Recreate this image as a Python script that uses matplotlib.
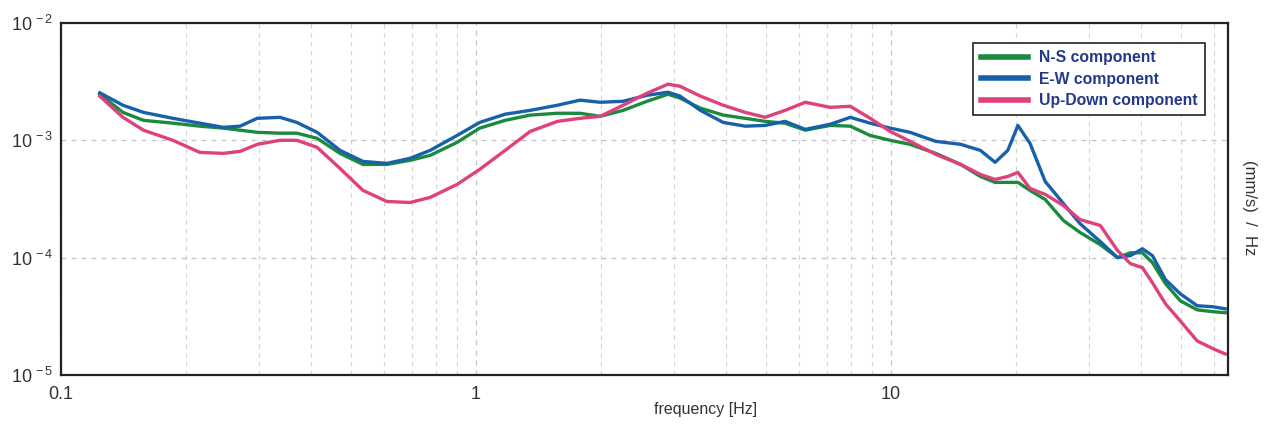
import matplotlib
matplotlib.use("Agg")
import matplotlib.pyplot as plt
from matplotlib.ticker import LogLocator, FixedLocator, FixedFormatter, NullFormatter

# ---- data ----
freq_hz = [0.124, 0.141, 0.158, 0.186, 0.216, 0.246, 0.270, 0.297, 0.337, 0.370,
           0.414, 0.470, 0.534, 0.610, 0.693, 0.775, 0.900, 1.02, 1.175, 1.35,
           1.57, 1.78, 1.99, 2.26, 2.58, 2.90, 3.10, 3.47, 3.94, 4.45,
           4.97, 5.55, 6.21, 7.13, 7.97, 8.90, 9.95, 11.1, 12.8, 14.7,
           16.4, 17.8, 19.1, 20.2, 21.6, 23.5, 26.0, 28.5, 31.9, 35.1,
           37.7, 40.3, 42.6, 45.8, 49.7, 54.6, 59.7, 63.8]

ns_component = [2.47e-3, 1.73e-3, 1.48e-3, 1.40e-3, 1.32e-3, 1.27e-3, 1.22e-3, 1.17e-3, 1.15e-3, 1.15e-3,
                1.04e-3, 7.74e-4, 6.23e-4, 6.23e-4, 6.75e-4, 7.44e-4, 9.61e-4, 1.27e-3, 1.48e-3, 1.64e-3,
                1.70e-3, 1.70e-3, 1.60e-3, 1.80e-3, 2.15e-3, 2.47e-3, 2.29e-3, 1.88e-3, 1.64e-3, 1.54e-3,
                1.45e-3, 1.40e-3, 1.22e-3, 1.34e-3, 1.32e-3, 1.10e-3, 1.00e-3, 9.24e-4, 7.74e-4, 6.23e-4,
                4.92e-4, 4.38e-4, 4.38e-4, 4.38e-4, 3.74e-4, 3.13e-4, 2.07e-4, 1.64e-4, 1.29e-4, 1.00e-4,
                1.10e-4, 1.10e-4, 9.06e-5, 6.00e-5, 4.29e-5, 3.59e-5, 3.46e-5, 3.39e-5]

ew_component = [2.54e-3, 1.99e-3, 1.73e-3, 1.54e-3, 1.40e-3, 1.29e-3, 1.32e-3, 1.54e-3, 1.57e-3, 1.42e-3,
                1.17e-3, 8.21e-4, 6.61e-4, 6.36e-4, 7.02e-4, 8.21e-4, 1.10e-3, 1.42e-3, 1.67e-3, 1.80e-3,
                1.99e-3, 2.20e-3, 2.11e-3, 2.15e-3, 2.42e-3, 2.57e-3, 2.38e-3, 1.80e-3, 1.42e-3, 1.32e-3,
                1.34e-3, 1.45e-3, 1.24e-3, 1.37e-3, 1.57e-3, 1.40e-3, 1.27e-3, 1.17e-3, 9.80e-4, 9.24e-4,
                8.21e-4, 6.49e-4, 8.21e-4, 1.34e-3, 9.43e-4, 4.46e-4, 2.89e-4, 1.95e-4, 1.37e-4, 1.00e-4,
                1.04e-4, 1.19e-4, 1.04e-4, 6.49e-5, 4.92e-5, 3.89e-5, 3.81e-5, 3.66e-5]

ud_component = [2.38e-3, 1.57e-3, 1.22e-3, 1.00e-3, 7.89e-4, 7.74e-4, 8.05e-4, 9.24e-4, 1.00e-3, 1.00e-3,
                8.71e-4, 5.76e-4, 3.74e-4, 3.01e-4, 2.95e-4, 3.26e-4, 4.21e-4, 5.65e-4, 8.21e-4, 1.19e-3,
                1.45e-3, 1.54e-3, 1.60e-3, 1.99e-3, 2.52e-3, 3.01e-3, 2.89e-3, 2.38e-3, 1.99e-3, 1.73e-3,
                1.57e-3, 1.80e-3, 2.11e-3, 1.91e-3, 1.95e-3, 1.54e-3, 1.19e-3, 9.80e-4, 7.59e-4, 6.23e-4,
                5.12e-4, 4.64e-4, 4.92e-4, 5.33e-4, 3.89e-4, 3.46e-4, 2.78e-4, 2.11e-4, 1.88e-4, 1.15e-4,
                8.89e-5, 8.21e-5, 6.11e-5, 4.04e-5, 2.89e-5, 1.95e-5, 1.67e-5, 1.51e-5]

series_labels = ["N-S component", "E-W component", "Up-Down component"]
x_tick_values = [0.1, 1, 10]
x_tick_labels = ["0.1", "1", "10"]
y_tick_values = [1e-5, 1e-4, 1e-3, 1e-2]
y_tick_labels = [r"$10^{\,-5}$", r"$10^{\,-4}$", r"$10^{\,-3}$", r"$10^{\,-2}$"]

# ---- figure ----
plt.rcParams['font.family'] = ['Liberation Sans', 'DejaVu Sans']
plt.rcParams['mathtext.fontset'] = 'custom'
plt.rcParams['mathtext.rm'] = 'Liberation Sans'
plt.rcParams['mathtext.it'] = 'Liberation Sans'

fig = plt.figure(figsize=(12.71, 4.29), dpi=100)
ax = fig.add_axes([0.048, 0.126, 0.9182, 0.8204])

colors = ["#1b8a3e", "#1761aa", "#e0407c"]
for vals, lab, c in zip([ns_component, ew_component, ud_component], series_labels, colors):
    ax.plot(freq_hz, vals, color=c, lw=2.4, label=lab, solid_joinstyle='round')

ax.set_xscale('log')
ax.set_yscale('log')
ax.set_xlim(0.1, 64.8)
ax.set_ylim(1e-5, 1e-2)

ax.xaxis.set_major_locator(FixedLocator(x_tick_values))
ax.xaxis.set_major_formatter(FixedFormatter(x_tick_labels))
ax.xaxis.set_minor_locator(LogLocator(base=10, subs=range(2, 10)))
ax.xaxis.set_minor_formatter(NullFormatter())
ax.yaxis.set_major_locator(FixedLocator(y_tick_values))
ax.yaxis.set_major_formatter(FixedFormatter(y_tick_labels))
ax.yaxis.set_minor_locator(FixedLocator([]))

ax.tick_params(axis='both', which='both', length=0, labelsize=13, labelcolor='#333333')
ax.tick_params(axis='x', pad=8)
ax.tick_params(axis='y', pad=6)

ax.grid(True, which='major', axis='both', color='#c4c4c4', ls=(0, (4, 4)), lw=0.9)
ax.grid(True, which='minor', axis='x', color='#d2d2d2', ls=(0, (4, 4)), lw=0.8)
ax.set_axisbelow(True)

for s in ax.spines.values():
    s.set_color('#222222')
    s.set_linewidth(1.6)

fig.text(0.555, 0.045, "frequency [Hz]", fontsize=11.5, color='#333333',
         ha='center', va='center')
fig.text(0.983, 0.515, "(mm/s)  /  Hz", fontsize=12, color='#333333',
         rotation=270, ha='center', va='center')

leg = ax.legend(loc='upper right', bbox_to_anchor=(0.9803, 0.943),
                prop={'size': 11.3, 'weight': 'bold'},
                frameon=True, fancybox=False, handlelength=3.0, handletextpad=0.75,
                borderpad=0.45, labelspacing=0.42, borderaxespad=0.0)
leg.get_frame().set_edgecolor('#222222')
leg.get_frame().set_linewidth(1.2)
leg.get_frame().set_alpha(1.0)
for line in leg.get_lines():
    line.set_linewidth(4.0)
for t in leg.get_texts():
    t.set_color('#24388a')

fig.savefig("out.png", dpi=100)
